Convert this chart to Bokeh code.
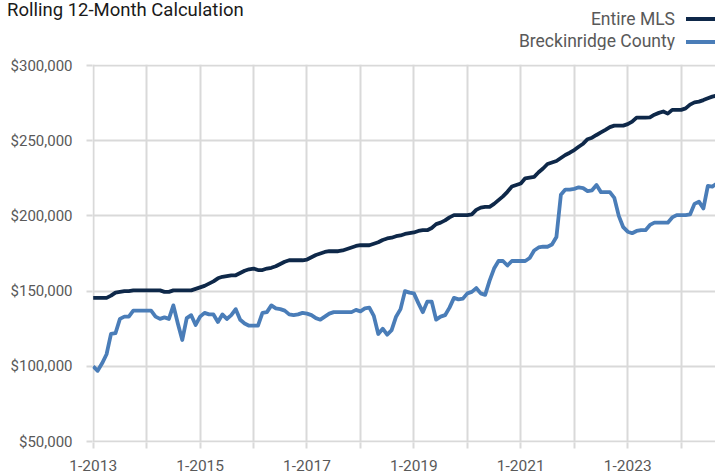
from bokeh.plotting import figure
from bokeh.layouts import column
from bokeh.models import FixedTicker, Range1d, Div
from bokeh.embed import file_html
from bokeh.resources import INLINE

# ---------------- data (monthly, Jan 2013 .. Sep 2024) ----------------
start_year = 2013
entire_mls = [
    145500, 145500, 145500, 145500, 147000, 149000, 149500, 150000, 150000, 150500, 150500, 150500,  # 2013
    150500, 150500, 150500, 150500, 149500, 149500, 150500, 150500, 150500, 150500, 150500, 151500,  # 2014
    152500, 153500, 155000, 156500, 158500, 159500, 160000, 160500, 160500, 162000, 163500, 164500,  # 2015
    165000, 164000, 164000, 165000, 165500, 166500, 168000, 169500, 170500, 170500, 170500, 170500,  # 2016
    171000, 172500, 174000, 175000, 176000, 176500, 176500, 176500, 177000, 178000, 179000, 180000,  # 2017
    180500, 180500, 180500, 181500, 182500, 184000, 185000, 185500, 186500, 187000, 188000, 188500,  # 2018
    189000, 190000, 190500, 190500, 192000, 194500, 195500, 197000, 199000, 200500, 200500, 200500,  # 2019
    200500, 201000, 204000, 205500, 206000, 206000, 208000, 210500, 213000, 216000, 219500, 220500,  # 2020
    221500, 225000, 225500, 226000, 229000, 231500, 234500, 235500, 236500, 238500, 240500, 242000,  # 2021
    243800, 246000, 248000, 251000, 252000, 253800, 255500, 257200, 259000, 260000, 260000, 260000,  # 2022
    261000, 262700, 265400, 265400, 265400, 265500, 267300, 268500, 269400, 268000, 270500, 270500,  # 2023
    270500, 271500, 274000, 275500, 276000, 277000, 278200, 279300, 280000,                          # 2024
]
breckinridge = [
    100000, 97000, 102000, 108000, 121500, 122000, 131500, 133000, 133000, 137000, 137000, 137000,   # 2013
    137000, 137000, 133000, 131500, 132500, 131500, 140500, 128500, 117500, 132000, 134000, 127500,  # 2014
    133000, 135500, 134500, 134500, 129500, 134500, 131500, 134000, 138000, 131000, 128500, 127000,  # 2015
    127000, 127000, 135500, 136000, 140500, 138500, 138000, 137000, 134500, 134000, 134500, 135500,  # 2016
    135000, 134000, 132000, 131000, 133000, 135000, 136000, 136000, 136000, 136000, 136000, 137500,  # 2017
    136500, 138500, 139000, 133500, 121500, 125000, 121000, 124000, 133000, 138000, 150000, 149000,  # 2018
    148500, 142000, 136000, 143000, 143000, 131000, 133000, 134000, 139000, 145500, 144500, 145000,  # 2019
    148500, 149500, 152000, 148500, 147500, 157000, 165000, 170000, 170000, 167000, 170000, 170000,  # 2020
    170000, 170000, 172000, 177000, 179000, 179500, 179500, 181000, 186000, 214000, 217500, 217500,  # 2021
    218000, 219000, 218500, 216500, 217000, 220500, 215800, 215800, 215800, 212000, 200000, 192500,  # 2022
    189500, 188500, 190000, 190500, 190500, 194000, 195500, 195500, 195500, 195500, 199000, 200500,  # 2023
    200500, 200500, 201000, 208000, 209500, 205000, 220000, 219500, 221500,                          # 2024
]
years = list(range(2013, 2025))
x_tick_labels = ["1-2013", "", "1-2015", "", "1-2017", "", "1-2019", "", "1-2021", "", "1-2023", ""]
y_ticks = [50000, 100000, 150000, 200000, 250000, 300000]
y_tick_labels = ["$50,000", "$100,000", "$150,000", "$200,000", "$250,000", "$300,000"]
series_names = ["Entire MLS", "Breckinridge County"]
title_text = "Rolling 12-Month Calculation"

# ---------------- styling ----------------
NAVY = "#0e2849"
BLUE = "#4a7db8"
GRID = "#d9d9d9"
LABEL = "#595959"
FONT = "Roboto"

W, H = 715, 476
HEAD_H = 50
MAIN_H = H - HEAD_H
PX_PER_MONTH = 4.454

# ---------------- header: title + legend (HTML) ----------------
legend_colors = [NAVY, BLUE]
parts = [
    f'<div style="position:relative;width:{W}px;height:{HEAD_H}px;overflow:hidden;'
    f'font-family:{FONT},sans-serif;margin:0;padding:0;">',
    f'<span style="position:absolute;left:7px;top:0px;font-size:18.5px;line-height:1.171;'
    f'color:#1a1a1a;white-space:nowrap;">{title_text}</span>',
]
for i, (name, col) in enumerate(zip(series_names, legend_colors)):
    top_txt = 9 + i * 21.7
    top_line = 17.3 + i * 23
    parts.append(
        f'<span style="position:absolute;right:40px;top:{top_txt}px;font-size:17.5px;'
        f'line-height:1.171;color:{LABEL};white-space:nowrap;">{name}</span>')
    parts.append(
        f'<span style="position:absolute;left:686px;top:{top_line}px;width:29px;height:4px;'
        f'background:{col};"></span>')
parts.append('</div>')
head = Div(text="".join(parts), width=W, height=HEAD_H, margin=0)

# ---------------- main chart ----------------
month_idx = list(range(len(entire_mls)))
FL, FT, FB = 92, 14, 34           # frame borders (left, top, bottom) in px
PAD_X = 0.7                        # px between frame edge and first gridline
x_start = -PAD_X / PX_PER_MONTH
x_end = (W - FL - PAD_X) / PX_PER_MONTH
frame_h = MAIN_H - FT - FB
y_pad = (y_ticks[-1] - y_ticks[0]) / (frame_h - 2) * 1.0
y_start, y_stop = y_ticks[0] - y_pad, y_ticks[-1] + y_pad

p = figure(width=W, height=MAIN_H, output_backend="svg", toolbar_location=None,
           x_range=Range1d(x_start, x_end), y_range=Range1d(y_start, y_stop),
           min_border_left=FL, min_border_right=0, min_border_top=FT,
           min_border_bottom=FB, margin=0)
p.outline_line_color = None
p.background_fill_color = "white"
p.border_fill_color = "white"

year_ticks = [(y - start_year) * 12 for y in years]
p.xaxis.ticker = FixedTicker(ticks=year_ticks)
p.xaxis.major_label_overrides = {t: l for t, l in zip(year_ticks, x_tick_labels)}
p.yaxis.ticker = FixedTicker(ticks=y_ticks)
p.yaxis.major_label_overrides = {t: l for t, l in zip(y_ticks, y_tick_labels)}
p.xgrid.ticker = FixedTicker(ticks=year_ticks)
p.ygrid.ticker = FixedTicker(ticks=y_ticks)

for ax in (p.xaxis[0], p.yaxis[0]):
    ax.axis_line_color = None
    ax.major_tick_in = 0
    ax.major_tick_out = 6
    ax.major_tick_line_color = GRID
    ax.major_tick_line_width = 2
    ax.minor_tick_line_color = None
    ax.major_label_text_color = LABEL
    ax.major_label_text_font = FONT
p.xaxis.major_label_text_font_size = "15.5px"
p.yaxis.major_label_text_font_size = "15px"
p.xaxis.major_label_standoff = 11
p.yaxis.major_label_standoff = 14

for g in (p.xgrid[0], p.ygrid[0]):
    g.grid_line_color = GRID
    g.grid_line_width = 2

p.line(month_idx, entire_mls, line_color=NAVY, line_width=3.8, line_join="round")
p.line(month_idx, breckinridge, line_color=BLUE, line_width=3.8, line_join="round")

layout = column(head, p, spacing=0)
open("out.html", "w").write(file_html(layout, INLINE))
